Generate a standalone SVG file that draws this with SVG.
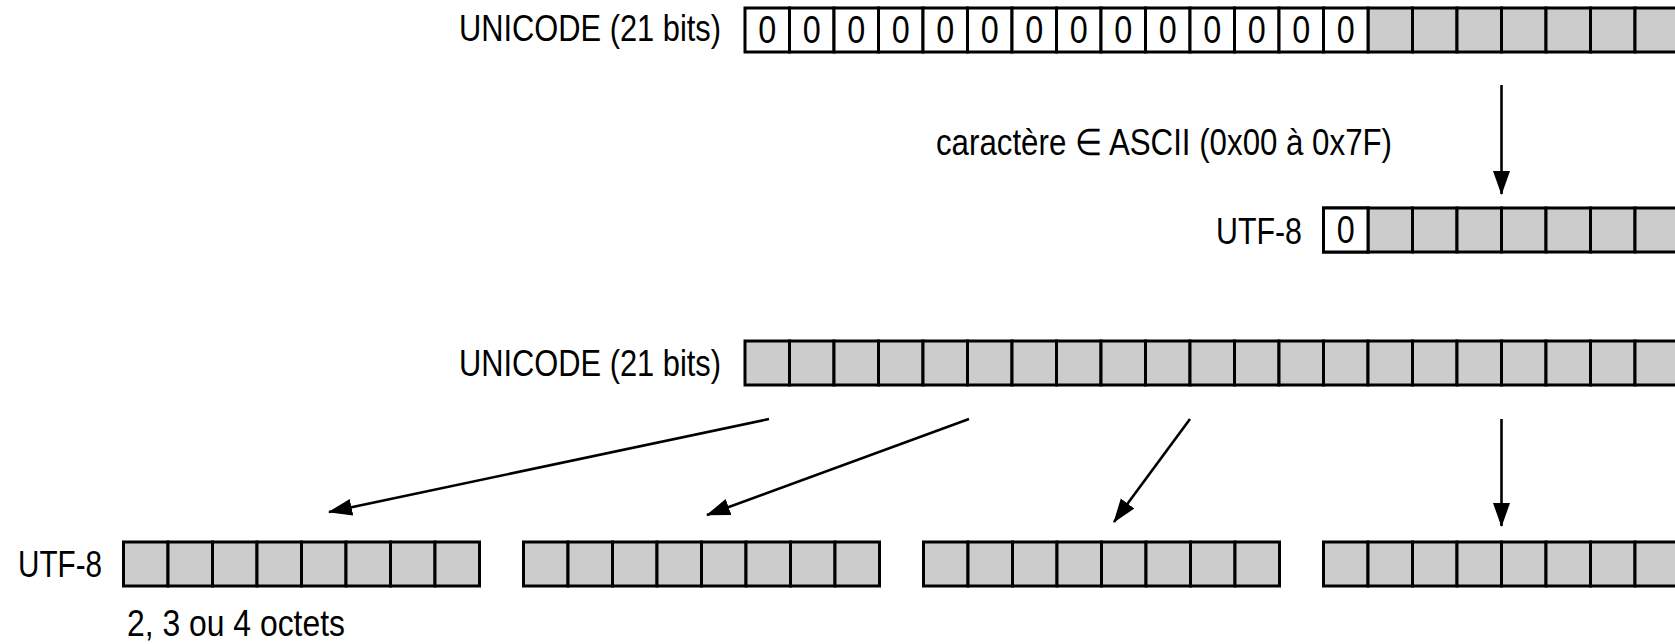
<svg xmlns="http://www.w3.org/2000/svg" xmlns:xlink="http://www.w3.org/1999/xlink" width="1675" height="644" viewBox="0 0 1675 644">
<style>
.g{fill:#cccccc;stroke:#000;stroke-width:3}
.w{fill:#ffffff;stroke:#000;stroke-width:3}
.t{font-family:"Liberation Sans Narrow","Liberation Sans",Arial,sans-serif;font-size:37px;fill:#000}
.e{text-anchor:end}
.z{font-family:"Liberation Sans Narrow","Liberation Sans",Arial,sans-serif;font-size:39px;fill:#000}
.c{stroke:#000;stroke-width:2.6;fill:none}
</style>
<defs>
<marker id="ah" markerUnits="userSpaceOnUse" markerWidth="26" markerHeight="20" refX="23" refY="8.5" orient="auto">
<path d="M0,0 L24,8.5 L0,17 z" fill="#000"/>
</marker>
<g id="byte">
<rect class="g" x="0" y="0" width="44.5" height="44"/>
<rect class="g" x="44.5" y="0" width="44.5" height="44"/>
<rect class="g" x="89" y="0" width="44.5" height="44"/>
<rect class="g" x="133.5" y="0" width="44.5" height="44"/>
<rect class="g" x="178" y="0" width="44.5" height="44"/>
<rect class="g" x="222.5" y="0" width="44.5" height="44"/>
<rect class="g" x="267" y="0" width="44.5" height="44"/>
<rect class="g" x="311.5" y="0" width="44.5" height="44"/>
</g>
</defs>
<rect width="1675" height="644" fill="#fff"/>

<g id="unicode-ascii">
<text class="t e" x="721" y="40.5" textLength="262" lengthAdjust="spacingAndGlyphs">UNICODE (21 bits)</text>
<use href="#byte" x="1368" y="8"/>
<rect class="w" x="745" y="8" width="44.5" height="44"/>
<rect class="w" x="789.5" y="8" width="44.5" height="44"/>
<rect class="w" x="834" y="8" width="44.5" height="44"/>
<rect class="w" x="878.5" y="8" width="44.5" height="44"/>
<rect class="w" x="923" y="8" width="44.5" height="44"/>
<rect class="w" x="967.5" y="8" width="44.5" height="44"/>
<rect class="w" x="1012" y="8" width="44.5" height="44"/>
<rect class="w" x="1056.5" y="8" width="44.5" height="44"/>
<rect class="w" x="1101" y="8" width="44.5" height="44"/>
<rect class="w" x="1145.5" y="8" width="44.5" height="44"/>
<rect class="w" x="1190" y="8" width="44.5" height="44"/>
<rect class="w" x="1234.5" y="8" width="44.5" height="44"/>
<rect class="w" x="1279" y="8" width="44.5" height="44"/>
<rect class="w" x="1323.5" y="8" width="44.5" height="44"/>
<text class="z" x="758.25" y="43" textLength="18" lengthAdjust="spacingAndGlyphs">0</text>
<text class="z" x="802.75" y="43" textLength="18" lengthAdjust="spacingAndGlyphs">0</text>
<text class="z" x="847.25" y="43" textLength="18" lengthAdjust="spacingAndGlyphs">0</text>
<text class="z" x="891.75" y="43" textLength="18" lengthAdjust="spacingAndGlyphs">0</text>
<text class="z" x="936.25" y="43" textLength="18" lengthAdjust="spacingAndGlyphs">0</text>
<text class="z" x="980.75" y="43" textLength="18" lengthAdjust="spacingAndGlyphs">0</text>
<text class="z" x="1025.25" y="43" textLength="18" lengthAdjust="spacingAndGlyphs">0</text>
<text class="z" x="1069.75" y="43" textLength="18" lengthAdjust="spacingAndGlyphs">0</text>
<text class="z" x="1114.25" y="43" textLength="18" lengthAdjust="spacingAndGlyphs">0</text>
<text class="z" x="1158.75" y="43" textLength="18" lengthAdjust="spacingAndGlyphs">0</text>
<text class="z" x="1203.25" y="43" textLength="18" lengthAdjust="spacingAndGlyphs">0</text>
<text class="z" x="1247.75" y="43" textLength="18" lengthAdjust="spacingAndGlyphs">0</text>
<text class="z" x="1292.25" y="43" textLength="18" lengthAdjust="spacingAndGlyphs">0</text>
<text class="z" x="1336.75" y="43" textLength="18" lengthAdjust="spacingAndGlyphs">0</text>
</g>

<g id="ascii-label">
<text class="t" x="936" y="155" textLength="456" lengthAdjust="spacingAndGlyphs">caractère ∈ ASCII (0x00 à 0x7F)</text>
</g>

<g id="utf8-ascii">
<text class="t e" x="1302" y="244" textLength="86" lengthAdjust="spacingAndGlyphs">UTF-8</text>
<use href="#byte" x="1323.5" y="208"/>
<rect class="w" x="1323.5" y="208" width="44.5" height="44"/>
<text class="z" x="1336.75" y="243" textLength="18" lengthAdjust="spacingAndGlyphs">0</text>
</g>

<g id="unicode-multi">
<text class="t e" x="721" y="376" textLength="262" lengthAdjust="spacingAndGlyphs">UNICODE (21 bits)</text>
<use href="#byte" x="745" y="341"/>
<use href="#byte" x="1101" y="341"/>
<use href="#byte" x="1457" y="341"/>
</g>

<g id="utf8-multi">
<text class="t e" x="102" y="577" textLength="84" lengthAdjust="spacingAndGlyphs">UTF-8</text>
<use href="#byte" x="123.5" y="542"/>
<use href="#byte" x="523.5" y="542"/>
<use href="#byte" x="923.5" y="542"/>
<use href="#byte" x="1323.5" y="542"/>
<text class="t" x="127" y="636" textLength="218" lengthAdjust="spacingAndGlyphs">2, 3 ou 4 octets</text>
</g>

<g id="connectors">
<line class="c" x1="1501.5" y1="85" x2="1501.5" y2="194" marker-end="url(#ah)"/>
<line class="c" x1="769" y1="419" x2="329" y2="512" marker-end="url(#ah)"/>
<line class="c" x1="969" y1="419" x2="707" y2="515" marker-end="url(#ah)"/>
<line class="c" x1="1190" y1="419" x2="1114" y2="522" marker-end="url(#ah)"/>
<line class="c" x1="1501.5" y1="419" x2="1501.5" y2="526" marker-end="url(#ah)"/>
</g>
</svg>
